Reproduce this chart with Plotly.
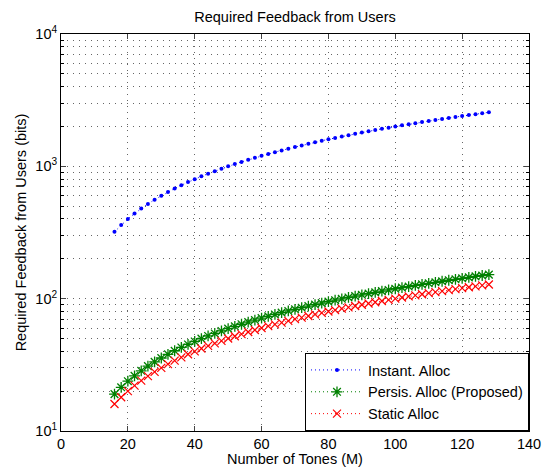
import plotly.graph_objects as go

M = [16, 18, 20, 22, 24, 26, 28, 30, 32, 34, 36, 38, 40, 42, 44, 46, 48, 50, 52, 54,
     56, 58, 60, 62, 64, 66, 68, 70, 72, 74, 76, 78, 80, 82, 84, 86, 88, 90, 92, 94,
     96, 98, 100, 102, 104, 106, 108, 110, 112, 114, 116, 118, 120, 122, 124, 126, 128]

instant = [320, 360, 400, 440, 480, 520, 560, 600, 640, 680, 720, 760, 800, 840, 880, 920,
           960, 1000, 1040, 1080, 1120, 1160, 1200, 1240, 1280, 1320, 1360, 1400, 1440, 1480,
           1520, 1560, 1600, 1640, 1680, 1720, 1760, 1800, 1840, 1880, 1920, 1960, 2000, 2040,
           2080, 2120, 2160, 2200, 2240, 2280, 2320, 2360, 2400, 2440, 2480, 2520, 2560]

persis = [19, 21.4, 23.8, 26.1, 28.5, 30.9, 33.3, 35.6, 38, 40.4, 42.8, 45.1, 47.5, 49.9,
          52.3, 54.6, 57, 59.4, 61.8, 64.1, 66.5, 68.9, 71.3, 73.6, 76, 78.4, 80.8, 83.1,
          85.5, 87.9, 90.3, 92.6, 95, 97.4, 99.8, 102.1, 104.5, 106.9, 109.3, 111.6, 114,
          116.4, 118.8, 121.1, 123.5, 125.9, 128.3, 130.6, 133, 135.4, 137.8, 140.1, 142.5,
          144.9, 147.3, 149.6, 152]

static = [16, 18, 20, 22, 24, 26, 28, 30, 32, 34, 36, 38, 40, 42, 44, 46, 48, 50, 52, 54,
          56, 58, 60, 62, 64, 66, 68, 70, 72, 74, 76, 78, 80, 82, 84, 86, 88, 90, 92, 94,
          96, 98, 100, 102, 104, 106, 108, 110, 112, 114, 116, 118, 120, 122, 124, 126, 128]

names = ["Instant. Alloc", "Persis. Alloc (Proposed)", "Static Alloc"]
y_ticks = [10, 100, 1000, 10000]
y_ticktext = ["10<sup>1</sup>", "10<sup>2</sup>", "10<sup>3</sup>", "10<sup>4</sup>"]
x_ticks = [0, 20, 40, 60, 80, 100, 120, 140]

minor_y = [k * 10 ** e for e in (1, 2, 3) for k in range(2, 10)]

FONT = "Liberation Sans, Arial, sans-serif"
FS = 14.5
GRID_COLOR = "#666666"
GRID_DASH = "1px,5px"

fig = go.Figure()
fig.add_trace(go.Scatter(
    x=M, y=instant, name=names[0], mode="lines+markers",
    line=dict(color="#0000ff", dash="1px,3px", width=1),
    marker=dict(symbol="circle", size=4, color="#0000ff")))
fig.add_trace(go.Scatter(
    x=M, y=persis, name=names[1], mode="lines+markers",
    line=dict(color="#008000", dash="1px,3px", width=1),
    marker=dict(symbol="asterisk-open", size=9, color="#008000",
                line=dict(color="#008000", width=1.3))))
fig.add_trace(go.Scatter(
    x=M, y=static, name=names[2], mode="lines+markers",
    line=dict(color="#ff0000", dash="1px,3px", width=1),
    marker=dict(symbol="x-thin-open", size=8, color="#ff0000",
                line=dict(color="#ff0000", width=1.2))))

grid_kw = dict(showgrid=True, gridcolor=GRID_COLOR, griddash=GRID_DASH, gridwidth=1)

fig.update_layout(
    width=542, height=467,
    margin=dict(l=61, r=13, t=34, b=36, autoexpand=False),
    paper_bgcolor="white", plot_bgcolor="white",
    font=dict(family=FONT, size=FS, color="black"),
    title=dict(text="Required Feedback from Users", x=0.5, xanchor="center",
               xref="paper",
               y=1 - 17 / 467, yanchor="middle", font=dict(size=FS)),
    showlegend=True,
    legend=dict(x=1, y=0, xanchor="right", yanchor="bottom",
                bordercolor="black", borderwidth=1, bgcolor="white",
                font=dict(size=FS), tracegroupgap=0, itemwidth=52),
    xaxis=dict(range=[0, 140], tickvals=x_ticks, ticks="inside", ticklen=5,
               showline=True, linecolor="black", linewidth=1, mirror="allticks",
               zeroline=False, automargin=False,
               title=dict(text="Number of Tones (M)", font=dict(size=FS), standoff=3),
               **grid_kw),
    yaxis=dict(type="log", range=[1, 4], tickvals=y_ticks, ticktext=y_ticktext,
               ticks="inside", ticklen=5,
               showline=True, linecolor="black", linewidth=1, mirror="allticks",
               zeroline=False, automargin=False,
               title=dict(text="Required Feedback from Users (bits)", font=dict(size=FS), standoff=5),
               minor=dict(tickvals=minor_y, ticks="inside", ticklen=3, tickcolor="black",
                          showgrid=True, gridcolor=GRID_COLOR, griddash=GRID_DASH, gridwidth=1),
               **grid_kw),
)

fig.write_html(
    "out.html",
    config={"displayModeBar": False},
    post_script="document.body.style.margin='0';document.body.style.overflow='hidden';",
)
